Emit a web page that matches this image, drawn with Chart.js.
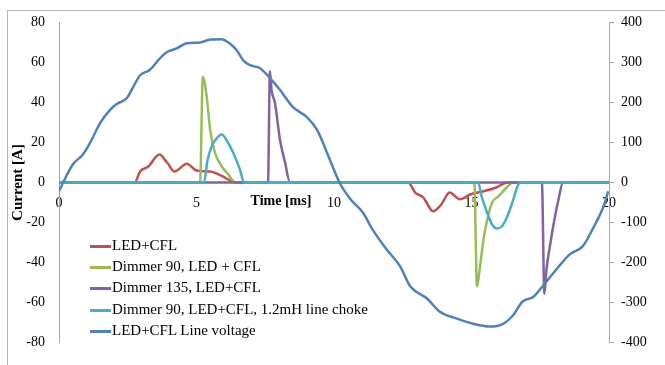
<!DOCTYPE html>
<html>
<head>
<meta charset="utf-8">
<script src="https://cdn.jsdelivr.net/npm/chart.js@4/dist/chart.umd.min.js"></script>
<style>
  body { margin: 0; background: #fff; }
  #wrap { position: relative; width: 665px; height: 365px; overflow: hidden; font-family: "Liberation Serif", serif; }
  #frame { position: absolute; left: 7px; top: 10px; width: 700px; height: 400px; border: 1px solid #b4b4b4; }
  #chart { position: absolute; left: 0; top: 0; }
  .xtitle { position: absolute; font-weight: bold; font-size: 14px; color: #000; transform: translate(-50%, -50%); white-space: nowrap; }
  .leg { position: absolute; left: 90px; font-size: 15px; color: #000; white-space: nowrap; height: 20px; line-height: 20px; }
  .leg i { display: inline-block; width: 21px; height: 3px; vertical-align: middle; margin-right: 1px; }
</style>
</head>
<body>
<div id="wrap">
  <div id="frame"></div>
  <canvas id="chart" width="665" height="365"></canvas>
  <div class="xtitle" style="left:281px;top:201px">Time [ms]</div>
  <div id="legend"></div>
</div>
<script>
// ── series names / colours ──────────────────────────────
const SERIES_NAMES = [
  "LED+CFL",
  "Dimmer 90, LED + CFL",
  "Dimmer 135, LED+CFL",
  "Dimmer 90, LED+CFL, 1.2mH line choke",
  "LED+CFL Line voltage",
];
const COLORS = ["#C0504D", "#9BBB59", "#8064A2", "#4BACC6", "#4F81BD"];

// ── current traces (A), time in ms ──────────────────────
const T_LED = [0, 2.75, 2.95, 3.25, 3.65, 3.93, 4.2, 4.65, 5.0, 5.5, 5.96, 6.3, 6.5,
               12.7, 12.95, 13.25, 13.6, 13.9, 14.2, 14.58, 14.95, 15.4, 15.9, 16.3, 20];
const I_LED = [0, 0, 5.5, 8, 14, 10, 5.5, 9.4, 6, 5.5, 3, 0.5, 0,
               0, -5, -7.5, -14.4, -11, -5, -8.4, -6, -4.5, -2.5, 0, 0];

const T_D90 = [0, 5.13, 5.23, 5.37, 5.5, 5.67, 5.92, 6.16, 6.4,
               15.1, 15.2, 15.3, 15.42, 15.55, 15.75, 15.97, 16.28, 16.5, 20];
const I_D90 = [0, 0, 52.7, 43, 26, 15, 8, 4, 0,
               0, -52, -43, -30, -20, -10, -7, -2.5, 0, 0];

const T_D135 = [0, 7.6, 7.67, 7.73, 7.85, 8.04, 8.22, 8.4,
                17.56, 17.65, 17.73, 17.85, 17.97, 18.15, 18.33, 20];
const I_D135 = [0, 0, 55.6, 46, 40, 21, 10, 0,
                0, -55.6, -43, -32, -22, -9.4, 0, 0];

const T_CHOKE = [0, 5.27, 5.4, 5.55, 5.73, 5.92, 6.1, 6.33, 6.58, 6.73,
                 15.24, 15.37, 15.55, 15.75, 15.92, 16.1, 16.3, 16.5, 16.67, 16.77, 20];
const I_CHOKE = [0, 0, 11, 18, 22, 24, 21, 15, 6.5, 0,
                 0, -7, -14.4, -21, -23, -22, -17, -9.4, -2, 0, 0];

// ── line voltage (V), right axis ────────────────────────
const T_VOLT = [0, 0.15, 0.5, 0.87, 1.13, 1.5, 1.85, 2.1, 2.47, 2.7, 2.95, 3.3, 3.67, 3.93,
                4.28, 4.65, 5.13, 5.5, 5.9, 6.2, 6.47, 6.7, 6.95, 7.3, 7.67, 8.04, 8.5, 9.0,
                9.38, 9.85, 10.2, 10.6, 11.05, 11.4, 11.9, 12.4, 12.76, 13.4, 13.85, 14.47,
                15.05, 15.67, 16.15, 16.5, 16.85, 17.24, 17.6, 18.1, 18.58, 19.05, 19.4, 19.8, 19.97];
const V_VOLT = [-22, 0, 45, 70, 99, 149, 181, 196, 211, 239, 268, 281, 310, 326,
                335, 348, 350, 357, 358, 348, 330, 305, 293, 286, 261, 231, 189, 164,
                132, 57, 0, -42, -75, -117, -166, -209, -258, -291, -323, -340,
                -353, -360, -353, -333, -298, -286, -258, -216, -179, -159, -117, -60, -22];

// ── axis ticks ──────────────────────────────────────────
const X_TICKS = [0, 5, 10, 15, 20];
const Y_LEFT = { min: -80, max: 80, step: 20 };
const Y_RIGHT = { min: -400, max: 400, step: 100 };

const pts = (xs, ys) => xs.map((x, i) => ({ x, y: ys[i] }));

const TRACES = [
  [T_LED, I_LED, "y"],
  [T_D90, I_D90, "y"],
  [T_D135, I_D135, "y"],
  [T_CHOKE, I_CHOKE, "y"],
  [T_VOLT, V_VOLT, "y1"],
];

const datasets = TRACES.map(([xs, ys, axis], i) => ({
  label: SERIES_NAMES[i],
  data: pts(xs, ys),
  yAxisID: axis,
  borderColor: COLORS[i],
  borderWidth: 2.5,
  pointRadius: 0,
  cubicInterpolationMode: "monotone",
  tension: 0.3,
  order: TRACES.length - i,   // later series on top, like the original
}));

// legend (HTML, lower left)
document.getElementById("legend").innerHTML = SERIES_NAMES.map((name, i) =>
  `<div class="leg" style="top:${235 + i * 21.2}px"><i style="background:${COLORS[i]}"></i>${name}</div>`
).join("");

const TICK_FONT = { family: "'Liberation Serif', serif", size: 14 };
const GRAY = "#a6a6a6";

new Chart(document.getElementById("chart"), {
  type: "line",
  data: { datasets },
  options: {
    responsive: false,
    animation: false,
    layout: { padding: { top: 22, bottom: 20, left: 0, right: 0 } },
    plugins: { legend: { display: false }, tooltip: { enabled: false } },
    scales: {
      x: {
        type: "linear",
        position: { y: 0 },
        min: 0, max: 20,
        afterBuildTicks: s => { s.ticks = X_TICKS.map(v => ({ value: v })); },
        grid: { display: false, drawTicks: false },
        border: { display: true, color: GRAY },
        ticks: { font: TICK_FONT, color: "#000", padding: 12, maxRotation: 0 },
      },
      y: {
        position: "left",
        min: Y_LEFT.min, max: Y_LEFT.max,
        ticks: { stepSize: Y_LEFT.step, font: TICK_FONT, color: "#000", padding: 14 },
        grid: { display: false, drawTicks: false },
        border: { display: true, color: GRAY },
        title: {
          display: true, text: "Current [A]", color: "#000",
          font: { family: "'Liberation Serif', serif", size: 15, weight: "bold" },
          padding: { top: 9, bottom: 0 },
        },
        afterFit: s => { s.width = 59; },
      },
      y1: {
        position: "right",
        min: Y_RIGHT.min, max: Y_RIGHT.max,
        ticks: { stepSize: Y_RIGHT.step, font: TICK_FONT, color: "#000", padding: 7 },
        grid: { display: true, drawOnChartArea: false, drawTicks: true, tickLength: 5, color: GRAY },
        border: { display: true, color: GRAY },
        afterFit: s => { s.width = 56; },
      },
    },
  },
});
</script>
</body>
</html>
